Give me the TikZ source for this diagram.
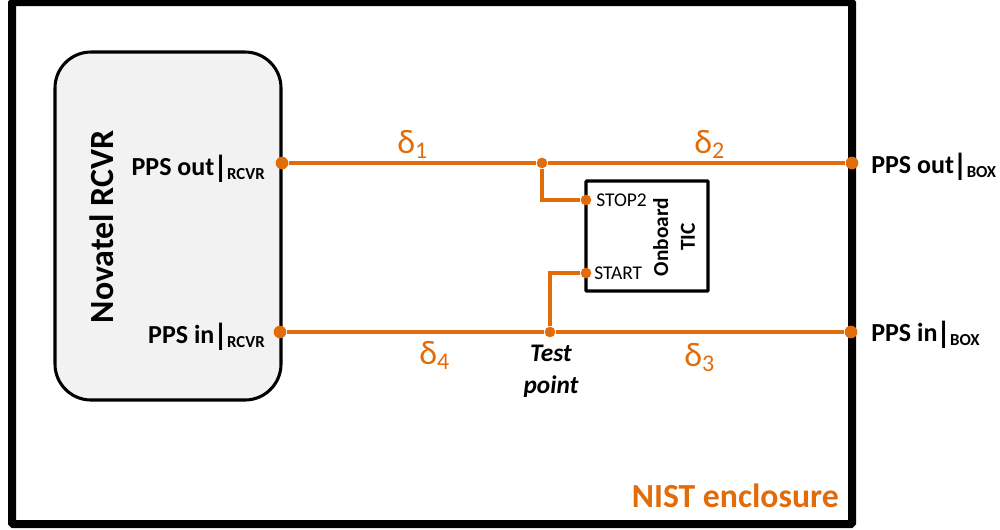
\documentclass[tikz,border=0pt]{standalone}
\usepackage{fontspec}
\setmainfont{Carlito}
\usetikzlibrary{calc}
\definecolor{wireorange}{HTML}{E36C0A}
\definecolor{rcvrgray}{HTML}{F2F2F2}
\newcommand{\ppslabel}[2]{\textbf{#1\kern-0.8pt\raisebox{-2pt}{\fontsize{23}{23}\selectfont|}\kern-0.6pt\raisebox{-3.5pt}{\fontsize{12.6}{12.6}\selectfont #2}}}
\newcommand{\delaylabel}[1]{\fontsize{25.5}{25.5}\selectfont δ\raisebox{-4pt}{\fontsize{18}{18}\selectfont #1}}
\tikzstyle{enclosure} = [draw, line width=6pt, rounded corners=1pt]
\tikzstyle{receiver} = [draw, fill=rcvrgray, line width=2.3pt, rounded corners=27pt]
\tikzstyle{counter} = [draw, line width=2.3pt, rounded corners=0.5pt]
\tikzstyle{port} = [circle, fill=wireorange, inner sep=0pt, minimum size=9.5pt]
\tikzstyle{wire} = [line width=3.3pt, draw=wireorange]
\tikzstyle{thinwire} = [line width=2.6pt, draw=wireorange]
\tikzstyle{ppstext} = [font=\fontsize{19.5}{19.5}\selectfont, inner sep=0pt]
\tikzstyle{delaytext} = [text=wireorange, inner sep=0pt]
\begin{document}
\begin{tikzpicture}[x=0.75pt, y=-0.75pt]
        \useasboundingbox (0,0) rectangle (1000,529);
        \draw [enclosure] (12,2) rectangle (852,524);
        \draw [receiver] (55,52) rectangle (281,400);
        \draw [counter] (586,181) rectangle (708,291);
        \node (rcvr) [font=\fontsize{25.4}{25.4}\selectfont\bfseries, rotate=90, inner sep=0pt] at (102,227) {Novatel RCVR};
        \node (tic) [font=\fontsize{16}{20}\selectfont\bfseries, rotate=90, align=center, inner sep=0pt] at (674,237) {Onboard\\TIC};
        \node (rcvr-out) [port] at (282,163) {};
        \node (rcvr-in) [port] at (280,332) {};
        \node (box-out) [port] at (852,163) {};
        \node (box-in) [port] at (851,332) {};
        \node (split) [port, minimum size=8pt] at (542,163) {};
        \node (test) [port, minimum size=8pt] at (550,332) {};
        \node (stop) [port, minimum size=8pt] at (586,200) {};
        \node (start) [port, minimum size=8pt] at (586,273) {};
        \draw [wire] (rcvr-out) -- (split);
        \draw [wire] (split) -- (box-out);
        \draw [wire] (rcvr-in) -- (test);
        \draw [wire] (test) -- (box-in);
        \draw [thinwire] (split) |- (stop);
        \draw [thinwire] (test) |- (start);
        \node (stop-text) [anchor=west, inner sep=0pt, font=\fontsize{14.6}{14.6}\selectfont] at (596,200) {STOP2};
        \node (start-text) [anchor=west, inner sep=0pt, font=\fontsize{14.6}{14.6}\selectfont] at (594,273) {START};
        \node (out-rcvr) [ppstext, anchor=base east] at (265,175) {\ppslabel{PPS out}{RCVR}};
        \node (in-rcvr) [ppstext, anchor=base east] at (265,343) {\ppslabel{PPS in}{RCVR}};
        \node (out-box) [ppstext, anchor=base west] at (871,173) {\ppslabel{PPS out}{BOX}};
        \node (in-box) [ppstext, anchor=base west] at (871,341) {\ppslabel{PPS in}{BOX}};
        \node (d1) [delaytext, anchor=base west] at (397,153) {\delaylabel{1}};
        \node (d2) [delaytext, anchor=base west] at (694,153) {\delaylabel{2}};
        \node (d3) [delaytext, anchor=base west] at (684,366) {\delaylabel{3}};
        \node (d4) [delaytext, anchor=base west] at (419,364) {\delaylabel{4}};
        \node (test-text) [align=center, inner sep=0pt, font=\fontsize{19}{24}\selectfont\bfseries\itshape] at (551,371) {Test\\point};
        \node (nist) [anchor=base east, inner sep=0pt, text=wireorange, font=\fontsize{25.3}{25.3}\selectfont\bfseries] at (839,507) {NIST enclosure};
    \end{tikzpicture}
\end{document}
